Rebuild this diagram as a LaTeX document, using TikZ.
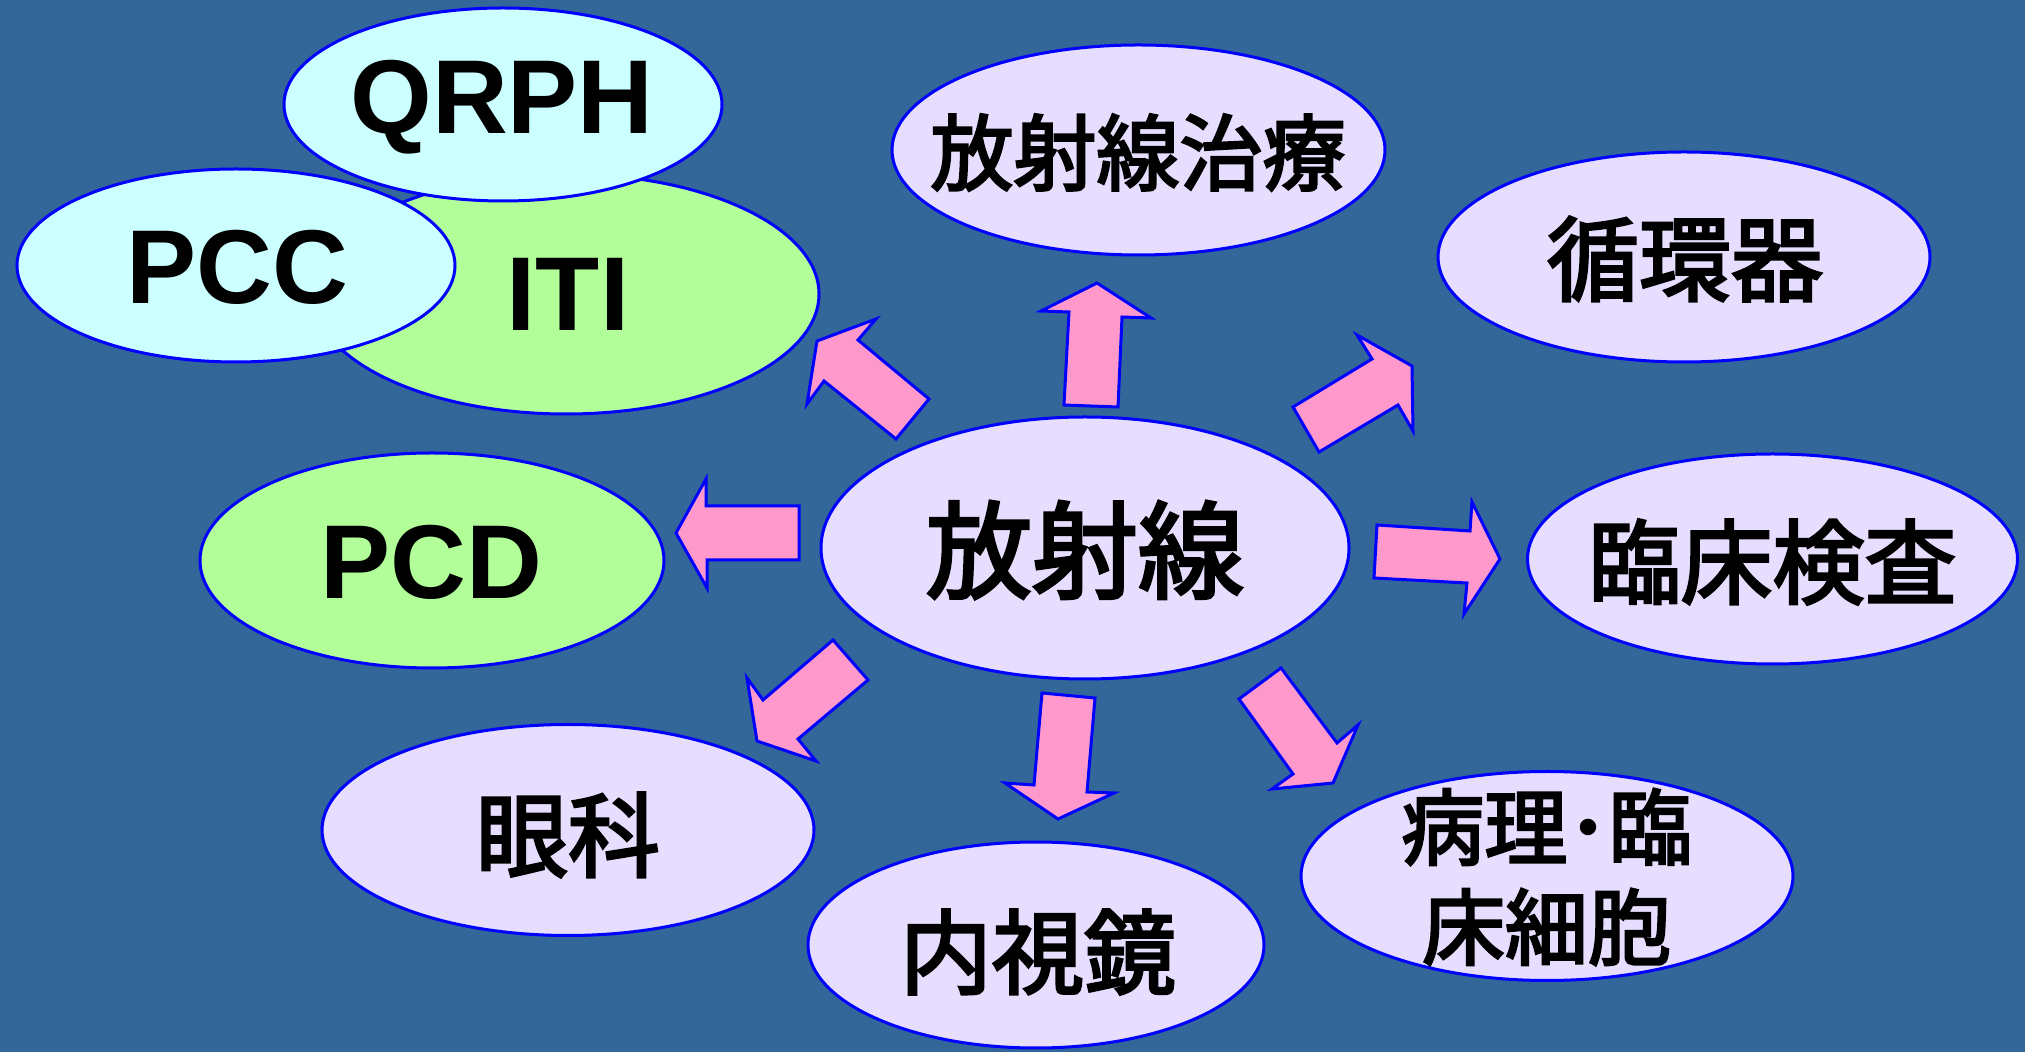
\documentclass[tikz,border=0pt]{standalone}
\usepackage{fontspec}
\setmainfont{Liberation Sans}
\newfontfamily\cjk{Noto Sans CJK JP}[FakeBold=3]
\usetikzlibrary{shapes.geometric}
\definecolor{bgblue}{RGB}{51,102,153}
\definecolor{edgeblue}{RGB}{0,0,255}
\definecolor{lav}{RGB}{230,221,255}
\definecolor{lgreen}{RGB}{178,255,153}
\definecolor{lcyan}{RGB}{204,255,255}
\definecolor{pinkA}{RGB}{255,153,204}
\begin{document}
\begin{tikzpicture}[x=0.5pt,y=-0.5pt,
  bub/.style={ellipse, draw=edgeblue, line width=1.5pt, inner sep=0pt, outer sep=0pt},
  lat/.style={font=\fontsize{52.5}{60}\selectfont\bfseries, text=black, inner sep=0pt},
  jp/.style={font=\cjk\fontsize{46}{50}\selectfont, text=black, inner sep=0pt},
  jps/.style={font=\cjk\fontsize{41.5}{50}\selectfont, text=black, inner sep=0pt, align=center},
  jpl/.style={font=\cjk\fontsize{53}{60}\selectfont, text=black, inner sep=0pt},
  blk/.style={draw=edgeblue, fill=pinkA, line width=1.5pt, line join=miter}]
\fill[bgblue] (0,0) rectangle (2025,1052);
\useasboundingbox (0,0) rectangle (2025,1052);

% left cluster
\node[bub, fill=lgreen, minimum width=253pt, minimum height=120pt] (iti) at (566,294) {};
\node[bub, fill=lcyan, minimum width=219pt, minimum height=96.5pt] (pcc) at (236,265.5) {};
\node[bub, fill=lcyan, minimum width=219pt, minimum height=96.5pt] (qrph) at (503,104.5) {};
\node[lat] (t-iti) at (568,294) {ITI};
\node[lat] (t-pcc) at (237,267) {PCC};
\node[lat] (t-qrph) at (502,107) {QRPH};

\node[bub, fill=lgreen, minimum width=232pt, minimum height=107.5pt] (pcd) at (432,560.5) {};
\node[lat] (t-pcd) at (431.5,562) {PCD};

% other ellipses
\node[bub, fill=lav, minimum width=246.5pt, minimum height=105pt] (rt) at (1138.5,150) {};
\node[jps] (t-rt) at (1138,152.5) {放射線治療};

\node[bub, fill=lav, minimum width=246pt, minimum height=105pt] (jun) at (1684,257) {};
\node[jp] (t-jun) at (1685,259) {循環器};

\node[bub, fill=lav, minimum width=264pt, minimum height=131pt] (rad) at (1085,548) {};
\node[jpl] (t-rad) at (1085,550) {放射線};

\node[bub, fill=lav, minimum width=245pt, minimum height=105pt] (rin) at (1772.5,559) {};
\node[jp] (t-rin) at (1772.5,562) {臨床検査};

\node[bub, fill=lav, minimum width=246pt, minimum height=105.5pt] (gan) at (568,830) {};
\node[jp] (t-gan) at (568,835) {眼科};

\node[bub, fill=lav, minimum width=228pt, minimum height=103pt] (nai) at (1036,945) {};
\node[jp] (t-nai) at (1038,952) {内視鏡};

\node[bub, fill=lav, minimum width=246pt, minimum height=104.5pt] (byo) at (1547,876) {};
\node[jps] (t-byo) at (1546.5,877) {病理･臨\\床細胞};

% block arrows
\draw[blk] (929,399) -- (858,340) -- (876,319) -- (817,341) -- (807,404) -- (824,381) -- (896,439) -- cycle;
\draw[blk] (1064,405) -- (1069,312) -- (1041,311) -- (1097,283) -- (1151,318) -- (1122,317) -- (1118,407) -- cycle;
\draw[blk] (1293,407) -- (1372,359) -- (1357,335) -- (1412,366) -- (1413,431) -- (1398,405) -- (1319,452) -- cycle;
\draw[blk] (1377,525) -- (1470,531) -- (1472,502) -- (1500,559) -- (1464,614) -- (1467,583) -- (1374,578) -- cycle;
\draw[blk] (1239,699) -- (1281,668) -- (1337,743) -- (1358,725) -- (1333,783) -- (1272,789) -- (1293,774) -- cycle;
\draw[blk] (1042,693) -- (1095,698) -- (1087,792) -- (1114,793) -- (1058,819) -- (1005,783) -- (1034,785) -- cycle;
\draw[blk] (833,640) -- (868,680) -- (798,739) -- (816,761) -- (757,741) -- (747,678) -- (763,700) -- cycle;
\draw[blk] (799,506) -- (706,506) -- (706,479) -- (676,533) -- (707,588) -- (707,560) -- (799,560) -- cycle;
\end{tikzpicture}
\end{document}
